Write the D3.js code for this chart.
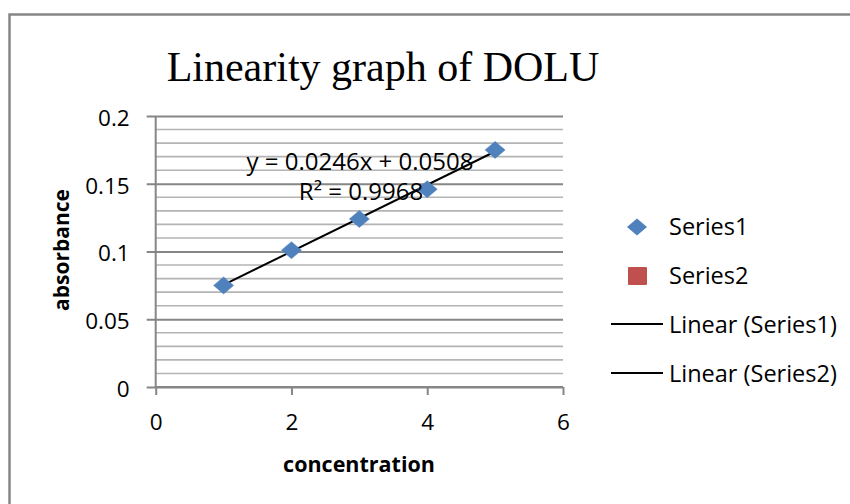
<!DOCTYPE html>
<html><head><meta charset="utf-8">
<script src="https://cdn.jsdelivr.net/npm/d3@7"></script>
<style>
html,body{margin:0;padding:0;background:#fff;}
svg text{font-family:"Open Sans",sans-serif;}
</style></head>
<body>
<svg id="c" width="850" height="504"></svg>
<script>
// ---- data ----
const concentration = [1, 2, 3, 4, 5];
const series1 = [0.075, 0.101, 0.124, 0.146, 0.175];
const series2 = [];
const trendSlope = 0.0246, trendIntercept = 0.0508;
const equationLabel = "y = 0.0246x + 0.0508";
const r2Label = "R² = 0.9968";
const xTicks = [0, 2, 4, 6];
const yMajorTicks = [0, 0.05, 0.1, 0.15, 0.2];
const yMinorStep = 0.01;
const legendItems = ["Series1", "Series2", "Linear (Series1)", "Linear (Series2)"];
const title = "Linearity graph of DOLU";
const xTitle = "concentration", yTitle = "absorbance";

const svg = d3.select("#c");
const x = d3.scaleLinear().domain([0, 6]).range([155.7, 563]);
const y = d3.scaleLinear().domain([0, 0.2]).range([387, 116]);

// outer border (left + top)
svg.append("path").attr("d", "M9.5,504 L9.5,14.5 L850,14.5")
  .attr("fill", "none").attr("stroke", "#868686").attr("stroke-width", 2.5);

// title
svg.append("text").attr("x", 383).attr("y", 80.5).attr("text-anchor", "middle")
  .style("font-family", "'Liberation Serif','Times New Roman',serif").style("font-size", "42px")
  .attr("fill", "#000").text(title);

// minor gridlines
const minor = d3.range(0, 0.2 + 1e-9, yMinorStep).filter(v => !yMajorTicks.some(m => Math.abs(m - v) < 1e-9));
svg.append("g").selectAll("line").data(minor).join("line")
  .attr("x1", x(0)).attr("x2", x(6)).attr("y1", d => y(d)).attr("y2", d => y(d))
  .attr("stroke", "#b4b4b4").attr("stroke-width", 1.6);

// y axis with major gridlines
const yAxis = d3.axisLeft(y).tickValues(yMajorTicks).tickFormat(d3.format("")).tickSize(-(x(6) - x(0))).tickPadding(26);
const yg = svg.append("g").attr("transform", `translate(${x(0)},0)`).call(yAxis);
yg.select(".domain").remove();
yg.selectAll(".tick line").attr("stroke", "#868686").attr("stroke-width", 2).attr("x1", -9);
yg.selectAll(".tick text").attr("fill", "#000").style("font-size", "22.5px").attr("dy", "0.42em");
svg.append("line").attr("x1", x(0)).attr("x2", x(0)).attr("y1", y(0.2)).attr("y2", y(0))
  .attr("stroke", "#868686").attr("stroke-width", 2);

// x axis
const xAxis = d3.axisBottom(x).tickValues(xTicks).tickFormat(d3.format("d")).tickSize(8).tickPadding(19);
const xg = svg.append("g").attr("transform", `translate(0,${y(0)})`).call(xAxis);
xg.select(".domain").attr("stroke", "#868686").attr("stroke-width", 2).attr("d", `M${x(0)},0H${x(6)}`);
xg.selectAll(".tick line").attr("stroke", "#868686").attr("stroke-width", 2);
xg.selectAll(".tick text").attr("fill", "#000").style("font-size", "22.5px");

// axis titles
svg.append("text").attr("x", 359).attr("y", 472).attr("text-anchor", "middle")
  .style("font-size", "21.5px").style("font-weight", "bold").text(xTitle);
svg.append("text").attr("transform", "translate(69,250) rotate(-90)").attr("text-anchor", "middle")
  .style("font-size", "21px").style("font-weight", "bold").text(yTitle);

// trendline
const tx = d3.extent(concentration);
svg.append("line")
  .attr("x1", x(tx[0])).attr("y1", y(trendSlope * tx[0] + trendIntercept))
  .attr("x2", x(tx[1])).attr("y2", y(trendSlope * tx[1] + trendIntercept))
  .attr("stroke", "#000").attr("stroke-width", 2);

// markers
const diamond = (cx, cy) => `M${cx},${cy - 8.5}L${cx + 10},${cy}L${cx},${cy + 8.5}L${cx - 10},${cy}Z`;
svg.append("g").selectAll("path").data(concentration.map((c, i) => [c, series1[i]])).join("path")
  .attr("d", d => diamond(x(d[0]), y(d[1])))
  .attr("fill", "#4f81bd").attr("stroke", "#4a7ebb").attr("stroke-width", 0.5);
svg.append("g").selectAll("rect").data(series2).join("rect");

// equation labels
svg.append("text").attr("x", 360).attr("y", 170).attr("text-anchor", "middle")
  .style("font-size", "24px").text(equationLabel);
svg.append("text").attr("x", 361).attr("y", 200).attr("text-anchor", "middle")
  .style("font-size", "24px").text(r2Label);

// legend
const lg = svg.append("g");
const ly = [227, 276, 325, 374];
legendItems.forEach((t, i) => {
  const cy = ly[i];
  if (i === 0) lg.append("path").attr("d", diamond(637, cy)).attr("fill", "#4f81bd");
  if (i === 1) lg.append("rect").attr("x", 628).attr("y", cy - 9).attr("width", 19).attr("height", 18).attr("rx", 1).attr("fill", "#c0504d");
  if (i >= 2) lg.append("line").attr("x1", 611).attr("x2", 663).attr("y1", cy - 1).attr("y2", cy - 1)
    .attr("stroke", "#000").attr("stroke-width", 2);
  lg.append("text").attr("x", 669).attr("y", cy).attr("dy", "0.36em")
    .style("font-size", "23.5px").attr("fill", "#000").text(t);
});
</script>
</body></html>
